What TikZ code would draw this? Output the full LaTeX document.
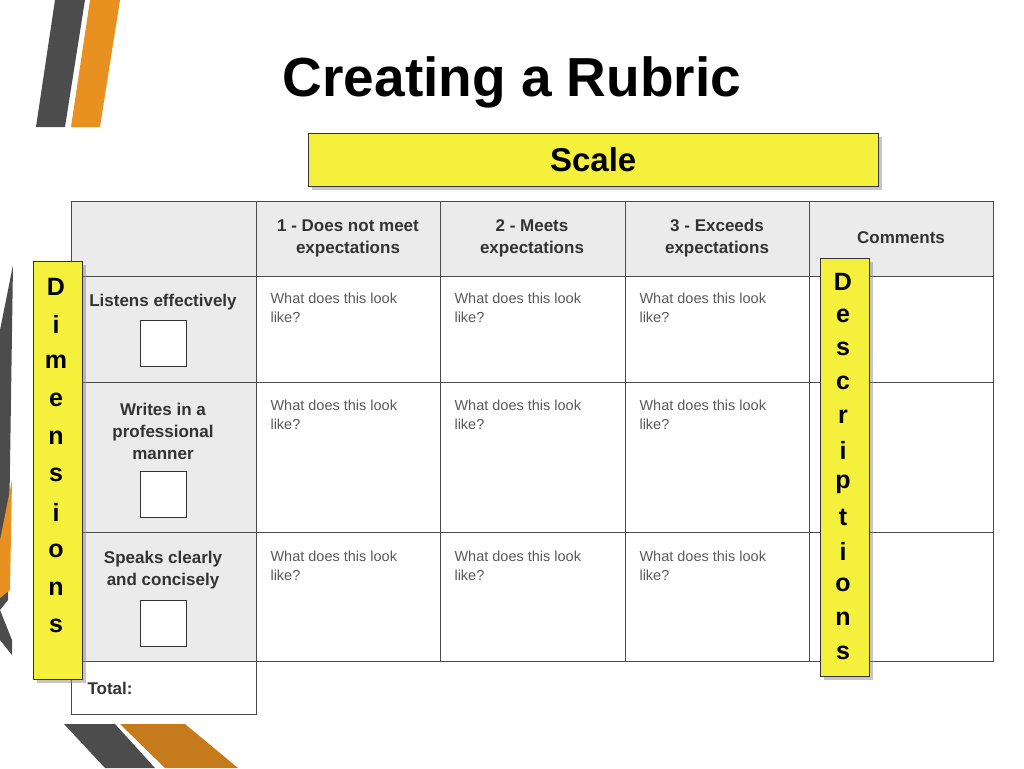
\documentclass[tikz,border=0pt]{standalone}
\usepackage{fontspec}
\setmainfont{Liberation Sans}
\usetikzlibrary{shadows}
\colorlet{stripe grey}{black!70}
\definecolor{stripe orange}{RGB}{232,144,32}
\colorlet{cell grey}{black!8}
\definecolor{label yellow}{RGB}{245,240,60}
\tikzset{
    % grid cells of the rubric
    cell/.style={draw=black!70, thick},
    head cell/.style={cell, fill=cell grey},
    % yellow call-out boxes
    tag box/.style={draw=black!80, fill=label yellow,
        drop shadow={opacity=0.45, shadow xshift=4pt, shadow yshift=-4pt}},
    every node/.style={align=center},
}
\begin{document}
\begin{tikzpicture}[x=1pt, y=-1pt,
    head/.style={font=\bfseries\fontsize{17}{22}\selectfont, text=black!80},
    ask/.style={font=\fontsize{14.5}{19}\selectfont, text=black!65, anchor=north west, align=left},
    check/.style={draw=black!80, fill=white, minimum size=46pt, inner sep=0pt},
    letter/.style={font=\bfseries\fontsize{25}{25}\selectfont},
]
\useasboundingbox (0,0) rectangle (1024,768);

% corner stripes
\fill [stripe grey] (36,127) -- (55,0) -- (85,0) -- (65,127) -- cycle;
\fill [stripe orange] (71,127) -- (90,0) -- (120,0) -- (100,127) -- cycle;
\fill [stripe grey] (64,724) -- (115,724) -- (155,768) -- (105,768) -- cycle;
\fill [stripe orange!85!black] (120,724) -- (185,724) -- (238,768) -- (165,768) -- cycle;
\fill [stripe grey] (13,265) -- (8,600) -- (0,610) -- (0,330) -- cycle;
\fill [stripe orange] (12,480) -- (10,590) -- (0,598) -- (0,540) -- cycle;
\fill [stripe grey] (0,610) -- (12,640) -- (12,655) -- (0,640) -- cycle;

\node [font=\bfseries\fontsize{55}{60}\selectfont] (title) at (512,82) {Creating a Rubric};

% rubric grid
\def\xs{{71,256,440,625,809,993}}
\def\ys{{201,276,382,532,661}}
\foreach \c in {0,...,4} {
    \pgfmathsetmacro\xa{\xs[\c]}\pgfmathsetmacro\xb{\xs[\c+1]}
    \draw [head cell] (\xa,201) rectangle (\xb,276);
    \foreach \r in {1,2,3} {
        \pgfmathsetmacro\ya{\ys[\r]}\pgfmathsetmacro\yb{\ys[\r+1]}
        \ifnum\c=0 \draw [head cell] (\xa,\ya) rectangle (\xb,\yb);
        \else \draw [cell] (\xa,\ya) rectangle (\xb,\yb); \fi
    }
}
\draw [cell] (71,661) rectangle (256,714);

\node [head] (scale one) at (348,238) {1 - Does not meet\\expectations};
\node [head] (scale two) at (532,238) {2 - Meets\\expectations};
\node [head] (scale three) at (717,238) {3 - Exceeds\\expectations};
\node [head] (comments) at (901,238) {Comments};

\node [head] (listens) at (163,302) {Listens effectively};
\node [head] (writes) at (163,431) {Writes in a\\professional\\manner};
\node [head] (speaks) at (163,570) {Speaks clearly\\and concisely};
\node [head, anchor=west] (total) at (84,688) {Total:};

\node [check] (box one) at (163,343) {};
\node [check] (box two) at (163,494) {};
\node [check] (box three) at (163,623) {};

\foreach \c in {0,1,2} {
    \pgfmathsetmacro\xa{\xs[\c+1]+11}
    \foreach \y in {289,396,547}
        \node [ask] at (\xa,\y) {What does this look\\like?};
}

% call-out boxes
\node [tag box, minimum width=570pt, minimum height=53pt, anchor=north west,
    font=\bfseries\fontsize{33}{36}\selectfont] (scale) at (308,133) {Scale};
\draw [tag box] (33,261) rectangle (82,679);
\draw [tag box] (820,258) rectangle (869,676);
\foreach \ch [count=\i] in {D,i,m,e,n,s,i,o,n,s}
    \node [letter] at (56,{249+37.7*\i}) {\ch};
\foreach \ch [count=\i] in {D,e,s,c,r,i,p,t,i,o,n,s}
    \node [letter] at (843,{248+33.7*\i}) {\ch};
\end{tikzpicture}
\end{document}
